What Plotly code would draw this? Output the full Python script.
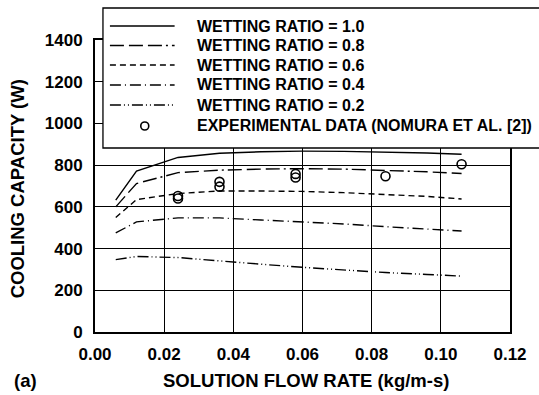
import plotly.graph_objects as go

# ---- data ----
flow_rate = [0.006, 0.012, 0.024, 0.036, 0.048, 0.060, 0.072, 0.084, 0.096, 0.106]
wr_1_0 = [632, 771, 837, 857, 864, 867, 866, 863, 858, 852]
wr_0_8 = [600, 712, 764, 776, 781, 783, 781, 776, 768, 760]
wr_0_6 = [549, 635, 664, 676, 676, 674, 668, 660, 650, 638]
wr_0_4 = [475, 528, 547, 547, 537, 528, 518, 505, 493, 484]
wr_0_2 = [347, 362, 357, 340, 325, 310, 297, 285, 276, 268]

exp_flow = [0.024, 0.024, 0.036, 0.036, 0.058, 0.058, 0.084, 0.106]
exp_cap = [640, 652, 697, 720, 741, 758, 747, 804]

series_names = ["WETTING RATIO = 1.0", "WETTING RATIO = 0.8", "WETTING RATIO = 0.6",
                "WETTING RATIO = 0.4", "WETTING RATIO = 0.2"]
series_values = [wr_1_0, wr_0_8, wr_0_6, wr_0_4, wr_0_2]
exp_name = "EXPERIMENTAL DATA (NOMURA ET AL. [2])"

x_ticks = [0.00, 0.02, 0.04, 0.06, 0.08, 0.10, 0.12]
x_tick_labels = ["0.00", "0.02", "0.04", "0.06", "0.08", "0.10", "0.12"]
y_ticks = [0, 200, 400, 600, 800, 1000, 1200, 1400]

# ---- styles ----
dashes = ["solid",
          "14px,5px,14px,5px,14px,4px,2px,4px",
          "6px,4px",
          "11px,4px,1px,4px",
          "11px,3px,1px,3px,1px,3px"]
FONT = "Liberation Sans, Arial, sans-serif"

W, H = 539, 395
L, R, T, B = 95, 27, 40, 63
pw, ph = W - L - R, H - T - B


def px(xp):
    return (xp - L) / pw


def py(yp):
    return (H - B - yp) / ph


fig = go.Figure()
for name, vals, d in zip(series_names, series_values, dashes):
    fig.add_trace(go.Scatter(x=flow_rate, y=vals, mode="lines", name=name,
                             line=dict(color="black", width=1.4, dash=d),
                             showlegend=False))
fig.add_trace(go.Scatter(x=exp_flow, y=exp_cap, mode="markers", name=exp_name,
                         marker=dict(symbol="circle-open", size=9, color="black",
                                     line=dict(width=1.6)),
                         showlegend=False))

# ---- manual legend box ----
shapes = [dict(type="rect", xref="paper", yref="paper",
               x0=px(103), x1=px(548), y0=py(148), y1=py(8),
               fillcolor="white", line=dict(color="black", width=1.3), layer="above")]
annotations = []
row_y = [26, 45.5, 65, 85, 105, 126]
legend_font = dict(family=FONT, size=16, color="black", weight="bold")
for i, (name, d) in enumerate(zip(series_names, dashes)):
    shapes.append(dict(type="line", xref="paper", yref="paper",
                       x0=px(110), x1=px(175), y0=py(row_y[i]), y1=py(row_y[i]),
                       line=dict(color="black", width=1.4, dash=d), layer="above"))
    annotations.append(dict(text=name, xref="paper", yref="paper",
                            x=px(195), y=py(row_y[i]), xanchor="left", yanchor="middle",
                            showarrow=False, font=legend_font))
shapes.append(dict(type="circle", xref="paper", yref="paper",
                   xsizemode="pixel", ysizemode="pixel",
                   xanchor=px(145), yanchor=py(row_y[5]),
                   x0=-4, x1=4, y0=-4, y1=4,
                   line=dict(color="black", width=1.6), layer="above"))
annotations.append(dict(text=exp_name, xref="paper", yref="paper",
                        x=px(195), y=py(row_y[5]), xanchor="left", yanchor="middle",
                        showarrow=False, font=legend_font))

# ---- axis titles ----
title_font = dict(family=FONT, size=18.5, color="black", weight="bold")
annotations.append(dict(text="COOLING CAPACITY (W)", xref="paper", yref="paper",
                        x=px(18), y=py(189), textangle=-90, showarrow=False,
                        xanchor="center", yanchor="middle", font=title_font))
annotations.append(dict(text="SOLUTION FLOW RATE (kg/m-s)", xref="paper", yref="paper",
                        x=px(307), y=py(380), showarrow=False,
                        xanchor="center", yanchor="middle", font=title_font))
annotations.append(dict(text="(a)", xref="paper", yref="paper",
                        x=px(25), y=py(380), showarrow=False,
                        xanchor="center", yanchor="middle", font=title_font))

tick_font = dict(family=FONT, size=17, color="black", weight="bold")
fig.update_layout(
    width=W, height=H,
    margin=dict(l=L, r=R, t=T, b=B, pad=0),
    paper_bgcolor="white", plot_bgcolor="white",
    showlegend=False,
    shapes=shapes, annotations=annotations,
    xaxis=dict(range=[0, 0.12], tickvals=x_ticks, ticktext=x_tick_labels,
               showgrid=True, gridcolor="black", gridwidth=1,
               showline=True, linecolor="black", linewidth=2, mirror=True,
               ticks="", ticklabelstandoff=6, tickfont=tick_font, zeroline=False),
    yaxis=dict(range=[0, 1400], tickvals=y_ticks,
               showgrid=True, gridcolor="black", gridwidth=1,
               showline=True, linecolor="black", linewidth=2, mirror=True,
               ticks="", ticklabelstandoff=7, tickfont=tick_font, zeroline=False),
)

fig.write_html("out.html")
